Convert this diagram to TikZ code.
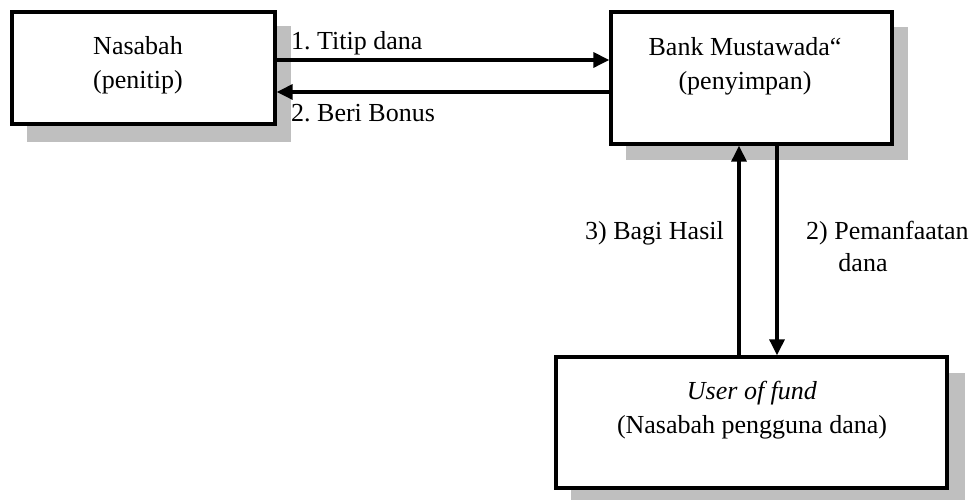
\documentclass[tikz,border=0pt]{standalone}
\usepackage{fontspec}
\setmainfont{Liberation Serif}
\usetikzlibrary{arrows.meta,calc}
\definecolor{shadowgray}{RGB}{191,191,191}
\frenchspacing
\begin{document}
\begin{tikzpicture}[x=1pt,y=1pt,
  box/.style={draw=black,line width=3.3pt,fill=white,rectangle,inner sep=0pt},
  shade/.style={fill=shadowgray,draw=none},
  txt/.style={font=\fontsize{26}{34}\selectfont,align=center,inner sep=0pt},
  arr/.style={line width=3.2pt,-{Triangle[length=16pt,width=15pt]}}]
\useasboundingbox[fill=white] (0,0) rectangle (977,500);
% shadows
\fill[shade] (27,358) rectangle (291,474);
\fill[shade] (626,340) rectangle (908,473);
\fill[shade] (571,0) rectangle (965,127);
% boxes
\node[box,minimum width=263pt,minimum height=112pt] (nasabah) at (143.5,432) {};
\node[box,minimum width=281pt,minimum height=132pt] (bank) at (751.5,422) {};
\node[box,minimum width=391pt,minimum height=131pt] (user) at (751.5,77.5) {};
% texts in boxes
\node[txt] (tnasabah) at (138,435) {Nasabah\\(penitip)};
\node[txt] (tbank) at (745,434) {Bank Mustawada“\\(penyimpan)};
\node[txt] (tuser) at (752,89.5) {\textit{User of fund}\\(Nasabah pengguna dana)};
% horizontal arrows
\coordinate (a1s) at ([yshift=8pt]nasabah.east);
\coordinate (a2s) at ([yshift=-24pt]nasabah.east);
\draw[arr] (a1s) -- (a1s -| bank.west);
\draw[arr] (a2s -| bank.west) -- (a2s);
% vertical arrows
\draw[arr] ([xshift=-12.5pt]user.north) -- ([xshift=-12.5pt]bank.south);
\draw[arr] ([xshift=25.5pt]bank.south) -- ([xshift=25.5pt]user.north);
% labels
\node[txt,anchor=west] (l1) at (291,457) {1. Titip dana};
\node[txt,anchor=west] (l2) at (291,387) {2. Beri Bonus};
\node[txt,anchor=east] (l3) at (724,267) {3) Bagi Hasil};
\node[txt,anchor=west] (l4) at (806,267) {2) Pemanfaatan};
\node[txt] (l5) at (863,237) {dana};
\end{tikzpicture}
\end{document}
